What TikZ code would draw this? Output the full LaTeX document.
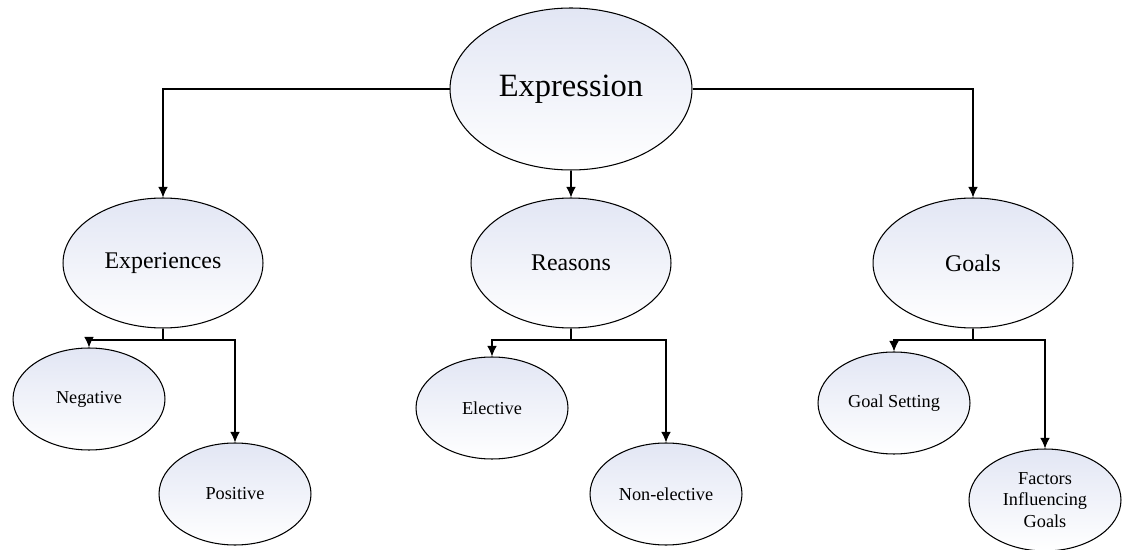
\documentclass[tikz,border=0pt]{standalone}
\usepackage{fontspec}
\setmainfont{Liberation Serif}
\usepackage{tikz}
\usetikzlibrary{calc, shapes.geometric, positioning, arrows.meta}

\tikzset{
    bubble/.style={ellipse, draw, line width=0.6pt, inner sep=1pt, align=center,
        top color={rgb,255:red,226;green,230;blue,244}, bottom color=white},
    rootbubble/.style={bubble, minimum width=4.84cm, minimum height=3.24cm, font=\fontsize{18.5}{22}\selectfont},
    midbubble/.style={bubble, minimum width=4.0cm, minimum height=2.6cm, font=\fontsize{13.6}{16}\selectfont},
    leafbubble/.style={bubble, minimum width=3.04cm, minimum height=2.04cm, font=\fontsize{10.4}{12.3}\selectfont},
    link/.style={line width=0.7pt}
}

\begin{document}
\begin{tikzpicture}[x=0.02cm, y=-0.02cm, >={Latex[length=6pt,width=5.5pt]}]
    \useasboundingbox (0,0) rectangle (1126,550);

    % Root
    \node[rootbubble] (expr) at (571,89) {Expression};

    % Second level
    \node[midbubble] (exper) at (163,263) {Experiences};
    \node[midbubble] (reas) at (571,263) {Reasons};
    \node[midbubble] (goals) at (973,263) {Goals};

    % Leaves
    \node[leafbubble] (neg) at (89,399) {Negative};
    \node[leafbubble] (pos) at (235,494) {Positive};
    \node[leafbubble] (elec) at (492,408) {Elective};
    \node[leafbubble] (nonel) at (666,494) {Non-elective};
    \node[leafbubble] (gset) at (894,403) {Goal Setting};
    \node[leafbubble] (fact) at (1045,500) {Factors\\Influencing\\Goals};

    % Connectors from the root
    \draw[link, ->] (expr.west) -| (exper.north);
    \draw[link, ->] (expr.east) -| (goals.north);
    \draw[link, ->] (expr.south) -- (reas.north);

    % Branch junctions
    \coordinate (jexp) at (163,340);
    \coordinate (jrea) at (571,340);
    \coordinate (jgoa) at (973,340);

    \draw[link] (exper.south) -- (jexp);
    \draw[link, ->] (jexp) -| (neg.north);
    \draw[link, ->] (jexp) -| (pos.north);

    \draw[link] (reas.south) -- (jrea);
    \draw[link, ->] (jrea) -| (elec.north);
    \draw[link, ->] (jrea) -| (nonel.north);

    \draw[link] (goals.south) -- (jgoa);
    \draw[link, ->] (jgoa) -| (gset.north);
    \draw[link, ->] (jgoa) -| (fact.north);
\end{tikzpicture}
\end{document}
